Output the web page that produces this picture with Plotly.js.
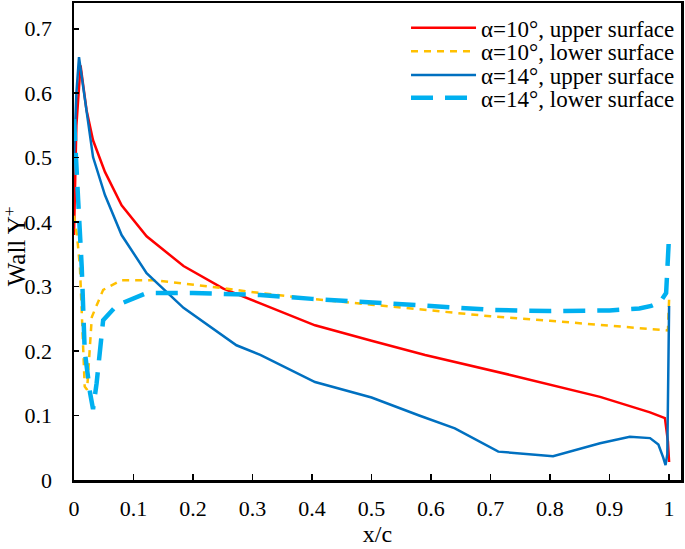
<!DOCTYPE html>
<html>
<head>
<meta charset="utf-8">
<script src="https://cdn.plot.ly/plotly-3.0.1.min.js"></script>
<style>html,body{margin:0;padding:0;background:#fff}#chart{width:685px;height:549px}</style>
</head>
<body>
<div id="chart"></div>
<script>
// alpha=10 deg, upper surface
const a10UpperX = [0, 0.004, 0.011, 0.021, 0.032, 0.052, 0.080, 0.122, 0.184, 0.251, 0.313, 0.405, 0.50, 0.59, 0.733, 0.884, 0.968, 0.993, 0.998, 1.0];
const a10UpperY = [0.38, 0.55, 0.643, 0.574, 0.527, 0.478, 0.426, 0.378, 0.332, 0.297, 0.274, 0.240, 0.216, 0.194, 0.163, 0.129, 0.105, 0.096, 0.06, 0.028];
// alpha=10 deg, lower surface
const a10LowerX = [0, 0.005, 0.01, 0.013, 0.018, 0.022, 0.030, 0.049, 0.08, 0.133, 0.229, 0.313, 0.40, 0.5, 0.6, 0.7, 0.8, 0.9, 0.998, 1.0];
const a10LowerY = [0.41, 0.38, 0.33, 0.253, 0.145, 0.14, 0.253, 0.295, 0.31, 0.31, 0.30, 0.29, 0.281, 0.272, 0.263, 0.254, 0.247, 0.24, 0.232, 0.28];
// alpha=14 deg, upper surface
const a14UpperX = [0, 0.004, 0.0084, 0.021, 0.032, 0.052, 0.080, 0.122, 0.184, 0.273, 0.313, 0.405, 0.50, 0.58, 0.64, 0.713, 0.805, 0.884, 0.934, 0.968, 0.982, 0.990, 0.994, 0.997, 1.0];
const a14UpperY = [0.50, 0.60, 0.656, 0.569, 0.501, 0.442, 0.380, 0.321, 0.267, 0.209, 0.194, 0.152, 0.128, 0.100, 0.080, 0.044, 0.037, 0.057, 0.067, 0.065, 0.055, 0.035, 0.023, 0.04, 0.27];
// alpha=14 deg, lower surface
const a14LowerX = [0, 0.004, 0.007, 0.013, 0.018, 0.027, 0.032, 0.038, 0.049, 0.072, 0.122, 0.2, 0.313, 0.4, 0.5, 0.6, 0.7, 0.8, 0.9, 0.95, 0.97, 0.985, 0.995, 1.0];
const a14LowerY = [0.56, 0.50, 0.434, 0.33, 0.2, 0.135, 0.11, 0.15, 0.248, 0.271, 0.29, 0.29, 0.287, 0.281, 0.276, 0.270, 0.264, 0.262, 0.263, 0.266, 0.27, 0.276, 0.29, 0.38];

const seriesNames = ['α=10°, upper surface', 'α=10°, lower surface', 'α=14°, upper surface', 'α=14°, lower surface'];
const xTickVals = [0, 0.1, 0.2, 0.3, 0.4, 0.5, 0.6, 0.7, 0.8, 0.9, 1];
const xTickText = ['0', '0.1', '0.2', '0.3', '0.4', '0.5', '0.6', '0.7', '0.8', '0.9', '1'];
const yTickVals = [0, 0.1, 0.2, 0.3, 0.4, 0.5, 0.6, 0.7];
const yTickText = ['0', '0.1', '0.2', '0.3', '0.4', '0.5', '0.6', '0.7'];
const xTitle = 'x/c';
const yTitle = 'Wall Y<sup>+</sup>';

const FONT = '"Liberation Serif", "Times New Roman", serif';

const traces = [
  {x: a10UpperX, y: a10UpperY, name: seriesNames[0], legend: 'legend', mode: 'lines', line: {color: '#ff0000', width: 2.5}},
  {x: a10LowerX, y: a10LowerY, name: seriesNames[1], legend: 'legend2', mode: 'lines', line: {color: '#ffc000', width: 2.5, dash: '7px,6px'}},
  {x: a14UpperX, y: a14UpperY, name: seriesNames[2], legend: 'legend3', mode: 'lines', line: {color: '#0070c0', width: 2.5}},
  {x: a14LowerX, y: a14LowerY, name: seriesNames[3], legend: 'legend4', mode: 'lines', line: {color: '#00b0f0', width: 4.5, dash: '22px,12px'}}
];

function legendAt(yPaper) {
  return {
    x: 0.547, y: yPaper, xanchor: 'left', yanchor: 'middle',
    bgcolor: 'rgba(255,255,255,0)', borderwidth: 0,
    font: {family: FONT, size: 23, color: '#000'},
    itemwidth: 65
  };
}

const layout = {
  width: 685, height: 549,
  margin: {l: 74, r: 4, t: 3, b: 69},
  paper_bgcolor: '#fff', plot_bgcolor: '#fff',
  font: {family: FONT, size: 22, color: '#000'},
  showlegend: true,
  legend: legendAt(0.948),
  legend2: legendAt(0.899),
  legend3: legendAt(0.849),
  legend4: legendAt(0.801),
  xaxis: {
    range: [0, 1.02], tickvals: xTickVals, ticktext: xTickText,
    showline: true, mirror: true, linecolor: '#000', linewidth: 2.5,
    ticks: 'inside', ticklen: 6, tickwidth: 1.5, tickcolor: '#000',
    showgrid: false, zeroline: false,
    tickfont: {family: FONT, size: 22},
    ticklabelstandoff: 7,
    title: {text: xTitle, font: {family: FONT, size: 24}, standoff: 4}
  },
  yaxis: {
    range: [0, 0.74], tickvals: yTickVals, ticktext: yTickText,
    showline: true, mirror: true, linecolor: '#000', linewidth: 2.5,
    ticks: 'inside', ticklen: 5, tickwidth: 1.5, tickcolor: '#000',
    showgrid: false, zeroline: false,
    tickfont: {family: FONT, size: 22},
    ticklabelstandoff: 15
  },
  annotations: [{
    text: yTitle, textangle: -90, showarrow: false,
    xref: 'paper', yref: 'paper', x: 0, y: 0.49,
    xanchor: 'center', yanchor: 'middle', xshift: -59,
    font: {family: FONT, size: 25, color: '#000'}
  }]
};

Plotly.newPlot('chart', traces, layout, {displayModeBar: false, staticPlot: true});
</script>
</body>
</html>
